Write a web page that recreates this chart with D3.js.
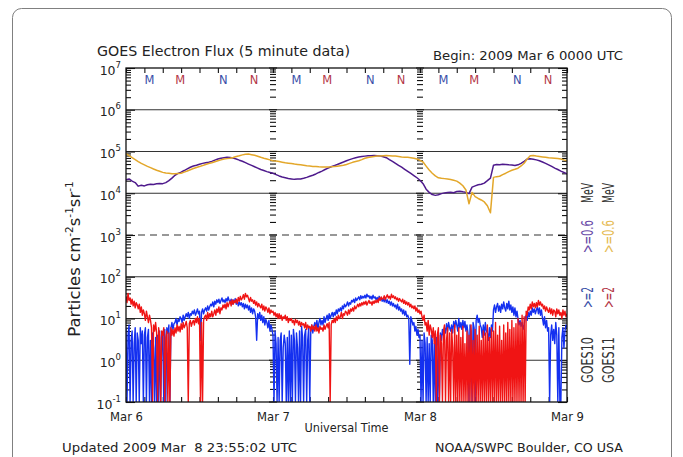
<!DOCTYPE html>
<html><head><meta charset="utf-8">
<script src="https://cdn.jsdelivr.net/npm/d3@7"></script>
<style>body{margin:0;background:#fff}svg{display:block}text{font-family:"DejaVu Sans",sans-serif}</style>
</head><body><svg id="c" width="683" height="457"></svg>
<script>
// ---------- data ----------
const dayLabels = ["Mar 6", "Mar 7", "Mar 8", "Mar 9"];
const dayHours = [0, 24, 48, 72];
const yTickExps = [7, 6, 5, 4, 3, 2, 1, 0, -1];
const gridSolidExps = [6, 5, 4, 2, 1, 0];
const gridDashedExps = [3];
const markerHours = [3.85, 8.85, 15.9, 20.9];
const markerLetters = ["M", "M", "N", "N"];
const markerSat = ["g10", "g11", "g10", "g11"];

// >=2 MeV, 10-minute samples from 2009 Mar 6 00 UT (one row per hour)
const step2 = 1 / 6;
const g10_2MeV = [
 6,0.1,4,7,0.1,3, 5,0.1,2.5,6,0.1,4.5, 3,0.1,6,2.5,5,0.1, 4,6,0.1,3.5,5.5,0.1,
 3,0.1,4.5,2,0.1,3.5, 0.1,4,0.1,5,0.1,3, 4,0.1,5.5,0.1,6,4.5, 7,0.1,6,8,5.5,7.5,
 8,10,7,9.5,8.5,11, 10,8,12,9,11,13, 11,14,10,13,12,15, 13,16,12,14,17,13,
 15,3,14,17,13,16, 18,15,20,16,19,22, 20,25,19,26,22,28, 24,29,23,27,31,25,
 28,24,30,26,33,27, 25,29,22,28,24,30, 22,27,20,25,21,24, 19,23,17,22,18,21,
 16,20,14,18,13,17, 15,11,3,13,10,14, 9,12,8,11,7,9.5, 8,6,9,5,7,5.5,
 4,0.1,5,2.5,0.1,3.5, 0.1,3,4.5,0.1,2,4, 2.5,0.1,3.5,0.1,5,0.1, 4,0.1,5.5,3,0.1,4.5,
 2,0.1,5,0.1,6.5,3.5, 0.1,4,5.5,0.1,3,6, 0.1,5,7,4.5,6.5,8, 6,9,5.5,8,10,7,
 9,7,11,8,10,12, 9,13,10,12,14,11, 14,12,16,13,17,15, 18,15,20,17,22,19,
 21,25,20,24,22,27, 25,29,24,31,27,30, 33,28,35,30,34,31, 36,31,38,33,35,30,
 34,29,36,31,33,28, 32,27,34,29,31,26, 29,25,31,24,28,23, 26,21,25,20,23,19,
 21,17,22,16,19,15, 17,13,16,12,15,11, 12,10,0.8,11,9,7, 8,5,6.5,4,5.5,3.5,
 4,0.1,3,0.1,4.5,2.5, 0.1,3.5,0.1,2.5,0.1,4, 3,0.1,2.5,0.1,3.5,0.1, 2,0.1,4.5,3,5.5,4,
 6,4.5,7.5,5,8,6, 5,7,4.5,8.5,6,9, 7,5,10,6,8,5.5, 9,6,8.5,5,7,4.5,
 0.1,7,5,0.1,8,6, 0.1,9,12,8,10,7, 6,3.5,7,4,8,5, 4.5,3,6,3.5,7,5,
 16,21,14,19,23,15, 20,14,22,17,25,18, 15,23,17,26,16,21, 14,19,12,18,11,15,
 10,7,9,6.5,8,5.5, 7,10,12,9,14,11, 15,12,18,14,17,13, 16,19,13,18,12,16,
 10,7,11,6,9,5, 6,0.1,4,7,3,5.5, 2.5,8,4,0.1,6,0.1, 0.1,3.5,6,2,5,7,
 6
];
const g11_2MeV = [
 34,24,40,27,31,22, 29,20,26,18,24,21, 17,22,14,19,12,16, 13,9,15,11,8,12,
 9,6,0.1,7,5,8, 4.5,0.1,6,3.5,0.1,5, 4,6,0.1,3.5,5,0.1, 4.5,0.1,6,4,5.5,3.8,
 6,4.5,7,5,6.5,4.8, 7.5,5.5,8,6,7,8.5, 6,0.1,7.5,9,6.5,8, 9,7,10,8,11,7.5,
 10,0.1,8,0.1,9,11, 12,9,14,10,13,11, 15,11,13,16,12,17, 14,19,13,18,16,21,
 18,22,17,24,19,23, 26,20,28,22,27,24, 29,23,32,26,34,28, 31,37,29,40,33,36,
 30,25,32,26,28,23, 27,21,25,19,23,20, 18,22,16,20,15,19, 17,14,18,13,16,14,
 15,12,14,11,13,10, 13,10,12,9,11,10, 12,9,11,8,10,9, 10,8,9,7,9.5,8,
 9,7,8.5,6.5,8,7, 7.5,6,8,5.5,7,6, 6.5,5,7,5.5,6.5,5, 7,5,6,4.5,6.5,5.5,
 6,5,7,5.5,6.5,7.5, 6,8,0.1,7,9,8, 10,8,11,9,12,10, 11,14,10,13,12,15,
 14,12,16,13,17,15, 18,15,20,17,19,22, 19,23,20,24,21,25, 22,26,21,24,27,23,
 25,21,26,23,27,24, 28,24,31,27,33,29, 30,35,28,33,37,31, 34,29,38,32,35,30,
 33,28,31,26,30,27, 25,29,23,27,22,25, 21,24,19,22,18,20, 17,20,15,18,14,16,
 13,15,11,9,12,7, 8,5,9,4,7,5.5, 3.5,6,2.5,5,0.1,4, 6,0.1,4,2.5,0.1,5,
 7,0.1,3,6,0.1,4.5, 0.1,5.5,2,0.1,7,0.1, 4,0.1,6,0.1,3.5,0.1, 6.5,0.1,2.5,0.1,5,0.1,
 4,0.1,7,0.1,3,0.1, 5.5,0.1,4,0.1,6.5,0.1, 3,0.1,5,0.1,4.5,0.1, 7,0.1,3.5,0.1,6,0.1,
 5,0.1,8,0.1,4,0.1, 6.5,0.1,3,0.1,7,0.1, 4.5,0.1,8,0.1,5.5,0.1, 9,0.1,6,0.1,7.5,0.1,
 10,0.1,8,0.1,12,0.1, 11,0.1,15,12,19,16, 22,17,25,19,23,18, 24,19,27,21,25,20,
 22,17,20,15,19,16, 14,18,13,17,12,16, 15,11,17,13,16,12, 14,10,16,12,15,11,
 13
];

// >=0.6 MeV, 30-minute samples
const step06 = 0.5;
const g10_06MeV = [
 21000,22000,19500,18000,14800,15500,15000,16000,16500,16200,16800,17200,17000,18000,20000,23000,
 27000,30000,32000,35000,38500,42000,45000,47000,49500,52000,54000,55500,58000,62000,66000,69000,
 71000,72500,72000,69500,66000,62000,58500,54000,50000,46500,43000,40000,37000,35000,33000,31500,
 30000,28000,26000,24500,23500,22500,22000,21500,21800,22000,22800,24000,25500,27000,29000,31500,
 34000,37000,40000,43000,46000,49000,52500,56000,60000,64000,67500,71000,74000,76000,77500,79000,
 79500,80000,79000,78000,75000,71000,64000,58000,52000,46500,42000,37500,33500,30000,26500,23500,
 20500,17000,12500,10500,9300,8900,9200,9800,10200,10400,10600,10300,11000,11200,10800,10500,
 9800,14000,15000,16000,16500,17500,20000,23000,47000,49000,48000,49500,49000,48000,47500,46000,
 48000,52000,58000,66000,67000,65000,63000,60000,56000,52000,48000,44000,40000,37000,34000,31500,29000
];
const g11_06MeV = [
 89000,80000,71000,64000,57500,52000,48000,44000,41000,38000,35500,33500,31600,30500,30200,29500,
 29500,29800,30200,32000,34000,36500,39000,41500,43500,46000,49000,51500,53700,57000,60000,63000,
 66000,67500,69000,72000,76000,79000,83000,86000,87000,84000,81000,77000,72500,69000,66000,63000,
 60000,59000,57500,55500,53700,52500,51300,50000,49000,48000,46800,45500,44700,44000,43600,43000,
 42700,42500,42700,43000,43600,44500,45700,47000,49000,52000,55000,57500,60300,64000,69000,72000,
 74000,76000,77600,78500,79400,80000,79400,78500,77600,76000,74000,73000,72400,71000,69000,66000,
 61600,56000,44700,36000,30200,26000,23400,22800,22400,21900,21400,20400,19500,17500,15100,12000,
 5600,10500,8300,7500,6900,6200,5000,3400,24000,25000,25500,28000,30200,33000,35500,37500,
 39800,45000,52500,66000,79000,80000,77600,76000,74100,72500,70800,70000,69200,68000,66100,63000,60300
];

// ---------- drawing ----------
const X0 = 126, X1 = 567, Y0 = 68, Y1 = 402;
const svg = d3.select("#c");
const COL = {g10_2: "#1430f0", g11_2: "#f01414", g10_06: "#4e1a8c", g11_06: "#e3a72a",
             mBlue: "#3a4fa8", mRed: "#b43848"};

svg.append("rect").attr("x", 12.5).attr("y", 8.5).attr("width", 659).attr("height", 480)
  .attr("rx", 9).attr("fill", "none").attr("stroke", "#808080").attr("stroke-width", 1);

const x = d3.scaleLinear().domain([0, 72]).range([X0, X1]);
const y = d3.scaleLog().domain([0.1, 1e7]).range([Y1, Y0]);

const majors = yTickExps.map(e => Math.pow(10, e));
const minors = [];
for (let e = -1; e <= 6; e++) for (let m = 2; m <= 9; m++) minors.push(m * Math.pow(10, e));

// grid lines
svg.append("g").selectAll("line").data(gridSolidExps).join("line")
  .attr("x1", X0).attr("x2", X1)
  .attr("y1", e => y(Math.pow(10, e))).attr("y2", e => y(Math.pow(10, e)))
  .attr("stroke", "#333").attr("stroke-width", 1.2);
svg.append("g").selectAll("line").data(gridDashedExps).join("line")
  .attr("x1", X0).attr("x2", X1)
  .attr("y1", e => y(Math.pow(10, e))).attr("y2", e => y(Math.pow(10, e)))
  .attr("stroke", "#333").attr("stroke-width", 1.2).attr("stroke-dasharray", "7,5");

// axes ticks
function strip(g) { g.select(".domain").remove(); g.selectAll("line").attr("stroke", "#111").attr("stroke-width", 1.1); }
svg.append("g").attr("transform", `translate(${X0},0)`)
  .call(d3.axisLeft(y).tickValues(minors).tickSizeInner(-5).tickSizeOuter(0).tickFormat("")).call(strip);
svg.append("g").attr("transform", `translate(${X0},0)`)
  .call(d3.axisLeft(y).tickValues(majors).tickSizeInner(-9).tickSizeOuter(0).tickFormat("")).call(strip);
svg.append("g").attr("transform", `translate(${X1},0)`)
  .call(d3.axisRight(y).tickValues(minors).tickSizeInner(-5).tickSizeOuter(0).tickFormat("")).call(strip);
svg.append("g").attr("transform", `translate(${X1},0)`)
  .call(d3.axisRight(y).tickValues(majors).tickSizeInner(-9).tickSizeOuter(0).tickFormat("")).call(strip);
const hourTicks = d3.range(0, 73, 3);
svg.append("g").attr("transform", `translate(0,${Y0})`)
  .call(d3.axisTop(x).tickValues(hourTicks).tickSizeInner(-5).tickSizeOuter(0).tickFormat("")).call(strip);
svg.append("g").attr("transform", `translate(0,${Y1})`)
  .call(d3.axisBottom(x).tickValues(hourTicks).tickSizeInner(-5).tickSizeOuter(0).tickFormat("")).call(strip);

// day boundary tick columns
const inner = dayHours.slice(1, -1);
inner.forEach(h => {
  const g = svg.append("g");
  g.selectAll("line.mi").data(minors).join("line").attr("class", "mi")
    .attr("x1", x(h) - 3).attr("x2", x(h) + 3).attr("y1", d => y(d)).attr("y2", d => y(d))
    .attr("stroke", "#111").attr("stroke-width", 1.1);
  g.selectAll("line.ma").data(majors).join("line").attr("class", "ma")
    .attr("x1", x(h) - 4).attr("x2", x(h) + 4).attr("y1", d => y(d)).attr("y2", d => y(d))
    .attr("stroke", "#111").attr("stroke-width", 1.1);
});

// data
svg.append("clipPath").attr("id", "clip").append("rect")
  .attr("x", X0).attr("y", Y0).attr("width", X1 - X0).attr("height", Y1 - Y0);
const plot = svg.append("g").attr("clip-path", "url(#clip)");
function lineFor(step) {
  return d3.line().x((d, i) => x(i * step)).y(d => y(Math.max(d, 0.1)));
}
[[g10_2MeV, step2, COL.g10_2, 1.4], [g10_06MeV, step06, COL.g10_06, 1.5],
 [g11_2MeV, step2, COL.g11_2, 1.4], [g11_06MeV, step06, COL.g11_06, 1.5]].forEach(([data, st, c, w]) => {
  plot.append("path").datum(data).attr("d", lineFor(st)).attr("fill", "none")
    .attr("stroke", c).attr("stroke-width", w).attr("stroke-linejoin", "round");
});

// plot frame
svg.append("rect").attr("x", X0).attr("y", Y0).attr("width", X1 - X0).attr("height", Y1 - Y0)
  .attr("fill", "none").attr("stroke", "#111").attr("stroke-width", 1.3);

// M / N markers
const markers = [];
for (let d = 0; d < 3; d++) markerHours.forEach((h, i) => markers.push({h: d * 24 + h, t: markerLetters[i], s: markerSat[i]}));
svg.append("g").selectAll("text").data(markers).join("text")
  .attr("x", d => x(d.h)).attr("y", 84).attr("text-anchor", "middle").attr("font-size", 11.5)
  .attr("fill", d => d.s === "g10" ? COL.mBlue : COL.mRed).text(d => d.t);

// y tick labels
const yl = svg.append("g").selectAll("text").data(yTickExps).join("text")
  .attr("x", 121).attr("y", e => y(Math.pow(10, e)) + 6.5).attr("text-anchor", "end")
  .attr("font-size", 12.5).attr("fill", "#222");
yl.append("tspan").text("10");
yl.append("tspan").attr("font-size", 8.5).attr("dy", -7).text(e => e);

// x day labels
svg.append("g").attr("transform", `translate(0,${Y1})`)
  .call(d3.axisBottom(x).tickValues(dayHours).tickSize(0).tickFormat((d, i) => dayLabels[i]))
  .call(g => g.select(".domain").remove())
  .call(g => g.selectAll("text").attr("y", 18.5).attr("dy", 0).attr("font-size", 12.5)
        .attr("font-family", "DejaVu Sans").attr("fill", "#222").attr("textLength", 33).attr("lengthAdjust", "spacingAndGlyphs"));

function txt(s, xx, yy, size, len, anchor) {
  const t = svg.append("text").attr("x", xx).attr("y", yy).attr("font-size", size)
    .attr("fill", "#222").style("white-space", "pre").text(s);
  if (anchor) t.attr("text-anchor", anchor);
  if (len) t.attr("textLength", len).attr("lengthAdjust", "spacingAndGlyphs");
  return t;
}
txt("GOES Electron Flux (5 minute data)", 97, 56, 14, 253);
txt("Begin: 2009 Mar 6 0000 UTC", 433, 60, 12.5, 190);
txt("Universal Time", (X0 + X1) / 2, 432, 12.5, 84, "middle");
txt("Updated 2009 Mar  8 23:55:02 UTC", 62, 452, 13, 235);
txt("NOAA/SWPC Boulder, CO USA", 435, 452, 13, 188);

// y axis title
const yt = svg.append("text").attr("transform", "translate(80,259) rotate(-90)")
  .attr("text-anchor", "middle").attr("font-size", 16.5).attr("fill", "#222");
yt.append("tspan").text("Particles cm");
yt.append("tspan").attr("font-size", 10.5).attr("dy", -7.5).text("-2");
yt.append("tspan").attr("dy", 7.5).text("s");
yt.append("tspan").attr("font-size", 10.5).attr("dy", -7.5).text("-1");
yt.append("tspan").attr("dy", 7.5).text("sr");
yt.append("tspan").attr("font-size", 10.5).attr("dy", -7.5).text("-1");

// right legend (rotated)
const legendCols = [
  {bx: 592.5, parts: [["GOES10", "#333", 383, 46], [">=2", COL.mBlue, 308, 21], [">=0.6", "#6a4aa8", 253, 33], ["MeV", "#333", 203, 20]]},
  {bx: 613.5, parts: [["GOES11", "#333", 383, 46], [">=2", COL.mRed, 308, 21], [">=0.6", "#e6bc55", 253, 33], ["MeV", "#333", 203, 20]]}
];
legendCols.forEach(col => col.parts.forEach(([s, c, yy, len]) => {
  svg.append("text").attr("transform", `translate(${col.bx},${yy}) rotate(-90)`)
    .attr("font-size", 15).attr("fill", c).attr("textLength", len).attr("lengthAdjust", "spacingAndGlyphs").text(s);
}));
</script>
</body></html>
